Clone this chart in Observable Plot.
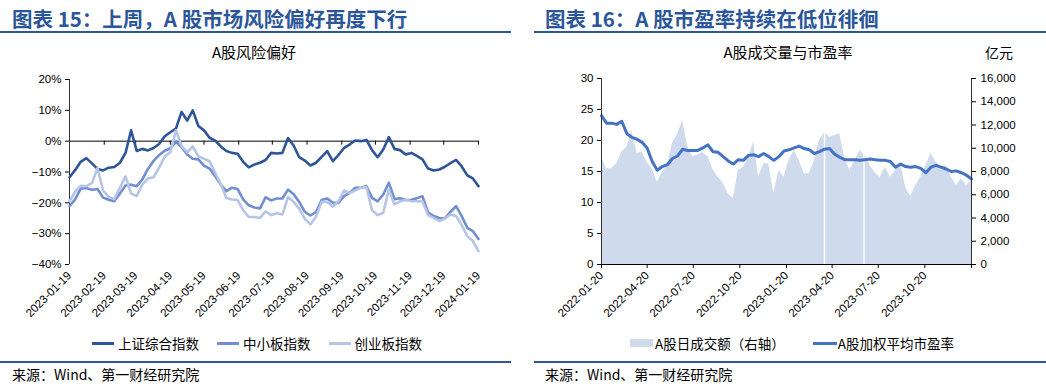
<!DOCTYPE html>
<html><head><meta charset="utf-8">
<script src="https://cdn.jsdelivr.net/npm/d3@7"></script>
<script src="https://cdn.jsdelivr.net/npm/@observablehq/plot@0.6"></script>
<style>
body{margin:0;background:#fff;width:1046px;height:387px;position:relative;overflow:hidden;font-family:"Noto Sans CJK SC","Noto Sans",sans-serif;color:#000;}
.abs{position:absolute;white-space:nowrap;}
.title{font-size:20.5px;font-weight:700;color:#2B579A;line-height:24px;}
.rule{position:absolute;height:2px;background:#2B579A;}
.ctitle{font-size:15px;line-height:18px;transform:translateX(-50%);}
.legend{font-size:13.5px;line-height:16px;display:flex;align-items:center;}
.item{display:flex;align-items:center;}
.src{font-size:14px;line-height:18px;}
</style></head>
<body>
<div class="abs title" style="left:12px;top:6px">图表 15：上周，A 股市场风险偏好再度下行</div>
<div class="rule" style="left:0;top:31px;width:511px"></div>
<div class="abs ctitle" style="left:254px;top:43px">A股风险偏好</div>
<div id="c1" class="abs" style="left:0;top:60px"></div>
<div id="l1" class="abs legend" style="left:92px;top:335px;gap:18px"></div>
<div class="rule" style="left:0;top:361px;width:511px"></div>
<div class="abs src" style="left:12px;top:365px">来源：Wind、第一财经研究院</div>

<div class="abs title" style="left:545px;top:6px">图表 16：A 股市盈率持续在低位徘徊</div>
<div class="rule" style="left:534px;top:31px;width:512px"></div>
<div class="abs ctitle" style="left:788px;top:43px">A股成交量与市盈率</div>
<div class="abs" style="left:985px;top:43px;font-size:14px;line-height:18px">亿元</div>
<div id="c2" class="abs" style="left:530px;top:60px"></div>
<div id="l2" class="abs legend" style="left:630px;top:335px;gap:28px"></div>
<div class="rule" style="left:534px;top:361px;width:512px"></div>
<div class="abs src" style="left:545px;top:365px">来源：Wind、第一财经研究院</div>

<script>
// ---------- Chart 15 data: A股风险偏好 (%) ----------
const riskDates = ["2023-01-19","2023-01-24","2023-01-29","2023-02-03","2023-02-08","2023-02-13","2023-02-18","2023-02-23","2023-02-28","2023-03-05","2023-03-10","2023-03-15","2023-03-20","2023-03-25","2023-03-30","2023-04-04","2023-04-09","2023-04-14","2023-04-19","2023-04-24","2023-04-29","2023-05-04","2023-05-09","2023-05-14","2023-05-19","2023-05-24","2023-05-29","2023-06-03","2023-06-08","2023-06-13","2023-06-18","2023-06-23","2023-06-28","2023-07-03","2023-07-08","2023-07-13","2023-07-18","2023-07-23","2023-07-28","2023-08-02","2023-08-07","2023-08-12","2023-08-17","2023-08-22","2023-08-27","2023-09-01","2023-09-06","2023-09-11","2023-09-16","2023-09-21","2023-09-26","2023-10-01","2023-10-06","2023-10-11","2023-10-16","2023-10-21","2023-10-26","2023-10-31","2023-11-05","2023-11-10","2023-11-15","2023-11-20","2023-11-25","2023-11-30","2023-12-05","2023-12-10","2023-12-15","2023-12-20","2023-12-25","2023-12-30","2024-01-04","2024-01-09","2024-01-14","2024-01-19"];
const shComposite = [-11.7,-9.4,-6.7,-5.5,-7.2,-9.0,-9.5,-8.6,-8.4,-7.0,-3.8,3.5,-3.2,-2.5,-3.0,-2.2,-0.9,1.6,2.9,4.1,9.5,6.7,10.0,4.9,3.5,1.1,0.2,-1.7,-3.2,-3.8,-4.1,-6.7,-8.5,-7.6,-7.0,-6.1,-3.8,
  -4.0,-3.8,1.0,-1.4,-5.2,-6.3,-7.9,-7.0,-5.1,-3.2,-6.5,-4.5,-2.2,-1.1,0.2,0.0,0.4,-2.9,-5.2,-2.7,1.3,-2.5,-2.9,-4.3,-3.8,-4.8,-5.9,-8.9,-9.5,-9.2,-8.3,-7.1,-6.1,-8.2,-11.1,-12.1,-14.6];
const smeBoard = [-21.1,-18.9,-15.4,-15.2,-15.8,-15.5,-18.3,-19.0,-19.5,-17.0,-14.4,-14.1,-14.6,-12.4,-9.0,-6.4,-4.5,-3.1,-2.3,-0.2,-1.9,-4.3,-5.7,-5.9,-7.9,-8.9,-11.4,-14.1,-16.2,-15.1,-15.5,-18.9,-20.8,-21.5,-21.8,-18.2,-19.2,
  -18.6,-18.6,-15.7,-17.2,-19.7,-22.9,-24.1,-23.0,-19.1,-18.6,-20.0,-20.0,-17.8,-16.8,-15.1,-15.1,-14.6,-18.4,-19.5,-17.3,-13.5,-18.8,-18.5,-19.1,-19.0,-18.5,-17.9,-23.1,-24.3,-24.9,-25.0,-22.9,-21.1,-24.3,-28.1,-29.2,-31.7];
const chinext = [-19.5,-16.4,-14.5,-14.6,-13.6,-8.8,-16.0,-18.1,-18.8,-15.1,-11.4,-17.0,-17.8,-14.1,-12.1,-11.7,-8.6,-5.0,-3.6,3.5,-1.5,-3.6,-1.7,-4.9,-5.7,-6.5,-10.3,-13.9,-18.4,-18.9,-19.1,-22.4,-24.6,-24.6,-24.9,-22.8,-24.0,
  -23.4,-23.8,-18.1,-19.7,-21.9,-25.2,-27.0,-24.5,-19.7,-19.7,-21.2,-19.5,-16.0,-16.8,-16.0,-15.1,-14.9,-22.4,-24.0,-23.2,-15.7,-20.5,-19.5,-19.0,-19.5,-19.5,-19.5,-24.0,-24.9,-25.9,-25.1,-23.8,-24.3,-27.2,-30.8,-32.4,-35.7];
const riskNames = ["上证综合指数","中小板指数","创业板指数"];
const riskColors = ["#2E5597","#718ECF","#B5C4E7"];
const riskTicks = ["2023-01-19","2023-02-19","2023-03-19","2023-04-19","2023-05-19","2023-06-19","2023-07-19","2023-08-19","2023-09-19","2023-10-19","2023-11-19","2023-12-19","2024-01-19"];
const riskYTicks = [-40,-30,-20,-10,0,10,20];

// ---------- Chart 16 data: 成交额 (亿元) & 市盈率 ----------
const tradeDates = ["2022-01-20","2022-01-30","2022-02-09","2022-02-19","2022-03-01","2022-03-11","2022-03-21","2022-03-31","2022-04-10","2022-04-20","2022-04-30","2022-05-10","2022-05-20","2022-05-30","2022-06-09","2022-06-19","2022-06-29","2022-07-09","2022-07-19","2022-07-29","2022-08-08","2022-08-18","2022-08-28","2022-09-07","2022-09-17","2022-09-27","2022-10-07","2022-10-17","2022-10-27","2022-11-06","2022-11-16","2022-11-26","2022-12-06","2022-12-16","2022-12-26","2023-01-05","2023-01-15","2023-01-25","2023-02-04","2023-02-14","2023-02-24","2023-03-06","2023-03-16","2023-03-26","2023-04-05","2023-04-15","2023-04-25","2023-05-05","2023-05-15","2023-05-25","2023-06-04","2023-06-14","2023-06-24","2023-07-04","2023-07-14","2023-07-24","2023-08-03","2023-08-13","2023-08-23","2023-09-02","2023-09-12","2023-09-22","2023-10-02","2023-10-12","2023-10-22","2023-11-01","2023-11-11","2023-11-21","2023-12-01","2023-12-11","2023-12-21","2023-12-31","2024-01-10","2024-01-20"];
const turnover = [9230,8230,8230,8660,9660,10090,11500,9580,9660,8800,8230,7080,7940,8510,10380,11180,12390,10150,9290,9430,9630,9290,8140,7510,7000,6080,5650,8080,8370,9170,10520,7510,8660,8660,6080,8080,7510,
  8950,9800,8950,7800,7800,8950,10670,11380,10950,11100,11240,9090,8090,8950,9800,9380,8510,7860,7510,8370,7510,8080,8660,6650,5850,6800,7510,8510,9520,8800,8370,8510,7510,6800,7370,6800,7230];
const peRatio = [24.0,22.8,22.8,22.6,23.1,21.1,20.5,20.2,19.7,18.8,16.6,15.2,15.8,16.1,17.1,17.5,18.6,18.4,18.4,18.4,18.8,19.3,18.2,18.1,17.4,16.7,16.2,16.9,16.8,17.6,17.7,17.4,17.9,17.4,16.8,17.4,18.3,
  18.5,18.8,19.1,18.7,18.5,17.9,18.2,18.6,18.7,17.8,17.3,16.9,16.9,16.9,16.8,16.9,17.0,16.9,16.8,16.8,16.6,15.7,16.2,15.8,15.7,15.8,15.5,14.8,15.7,16.0,15.7,15.4,15.0,15.1,14.8,14.4,13.8];
const gapDates = ["2023-04-05","2023-06-22"];
const tradeNames = ["A股日成交额（右轴）","A股加权平均市盈率"];
const tradeColors = ["#CFDAEC","#4472C4"];
const tradeTicks = ["2022-01-20","2022-04-20","2022-07-20","2022-10-20","2023-01-20","2023-04-20","2023-07-20","2023-10-20"];
const tradeTickMarks = ["2022-01-20","2022-04-20","2022-07-20","2022-10-20","2023-01-20","2023-04-20","2023-07-20","2023-10-20","2024-01-20"];
const peTicks = [0,5,10,15,20,25,30];
const volTicks = [0,2000,4000,6000,8000,10000,12000,14000,16000];

// ---------- helpers ----------
const parse = d3.utcParse("%Y-%m-%d");
const fmt = d3.utcFormat("%Y-%m-%d");
const axisFont = "'Liberation Sans', Arial, sans-serif";
const pct = d => (d < 0 ? "\u2212" : "") + Math.abs(d) + "%";

// ---------- Chart 15 ----------
const riskSeries = [shComposite, smeBoard, chinext];
const riskRows = riskSeries.flatMap((vals, s) => riskDates.map((d, i) => ({date: parse(d), value: vals[i], series: riskNames[s]})));
const r0 = parse(riskDates[0]), r1 = parse(riskDates[riskDates.length - 1]);

const chart1 = Plot.plot({
  width: 520, height: 270,
  marginLeft: 69, marginRight: 42, marginTop: 19, marginBottom: 66,
  style: {fontFamily: axisFont, fontSize: "11.5px", color: "#000", background: "transparent", overflow: "visible"},
  x: {type: "utc", domain: [r0, r1], label: null},
  y: {domain: [-40, 20], label: null},
  color: {domain: riskNames, range: riskColors},
  marks: [
    Plot.ruleY([0], {stroke: "#000", strokeWidth: 1}),
    Plot.ruleX(riskTicks.map(parse), {y1: 0, y2: -1.3, stroke: "#000", strokeWidth: 1}),
    Plot.ruleX([r0], {stroke: "#333", strokeWidth: 1}),
    Plot.lineY(riskRows, {x: "date", y: "value", z: "series", stroke: "series", strokeWidth: 2.6, strokeLinejoin: "round"}),
    Plot.axisY(riskYTicks, {tickSize: 4, tickPadding: 4, tickFormat: pct, label: null}),
    Plot.axisX(riskTicks.map(parse), {tickSize: 0, tickPadding: 9, tickRotate: -45, tickFormat: fmt, fontSize: 11.5, label: null})
  ]
});
document.getElementById("c1").append(chart1);

const l1 = document.getElementById("l1");
riskNames.forEach((n, i) => {
  const it = document.createElement("div"); it.className = "item";
  it.innerHTML = `<span style="display:inline-block;width:22px;height:3px;background:${riskColors[i]};margin-right:4px"></span><span>${n}</span>`;
  l1.append(it);
});

// ---------- Chart 16 ----------
const peMax = 30, volMax = 16000;
const toPe = v => v * peMax / volMax;
const tradeRows = tradeDates.map((d, i) => ({date: parse(d), vol: turnover[i], pe: peRatio[i]}));
const t0 = parse(tradeDates[0]), t1 = parse(tradeDates[tradeDates.length - 1]);

const chart2 = Plot.plot({
  width: 516, height: 270,
  marginLeft: 71, marginRight: 75, marginTop: 18, marginBottom: 66,
  style: {fontFamily: axisFont, fontSize: "11.5px", color: "#000", background: "transparent", overflow: "visible"},
  x: {type: "utc", domain: [t0, t1], label: null},
  y: {domain: [0, peMax], label: null},
  marks: [
    Plot.areaY(tradeRows, {x: "date", y: d => toPe(d.vol), fill: tradeColors[0]}),
    Plot.ruleX(gapDates.map(parse), {stroke: "#fff", strokeWidth: 1.5}),
    Plot.lineY(tradeRows, {x: "date", y: "pe", stroke: tradeColors[1], strokeWidth: 3, strokeLinejoin: "round"}),
    Plot.ruleY([0], {stroke: "#000", strokeWidth: 1}),
    Plot.ruleX([t0, t1], {stroke: "#333", strokeWidth: 1}),
    Plot.ruleX(tradeTickMarks.map(parse), {y1: 0, y2: -0.65, stroke: "#000", strokeWidth: 1}),
    Plot.axisY(peTicks, {anchor: "left", tickSize: 4, tickPadding: 4, label: null}),
    Plot.axisY(volTicks.map(toPe), {anchor: "right", tickSize: 4, tickPadding: 5, tickFormat: d => d3.format(",")(Math.round(d * volMax / peMax)), label: null}),
    Plot.axisX(tradeTicks.map(parse), {tickSize: 0, tickPadding: 9, tickRotate: -45, tickFormat: fmt, fontSize: 11.5, label: null})
  ]
});
document.getElementById("c2").append(chart2);

const l2 = document.getElementById("l2");
tradeNames.forEach((n, i) => {
  const it = document.createElement("div"); it.className = "item";
  const sw = i === 0
    ? `<span style="display:inline-block;width:23px;height:8px;background:${tradeColors[0]};margin-right:2px"></span>`
    : `<span style="display:inline-block;width:24px;height:3px;background:${tradeColors[1]};margin-right:1px"></span>`;
  it.innerHTML = sw + `<span>${n}</span>`;
  l2.append(it);
});
</script>
</body></html>
